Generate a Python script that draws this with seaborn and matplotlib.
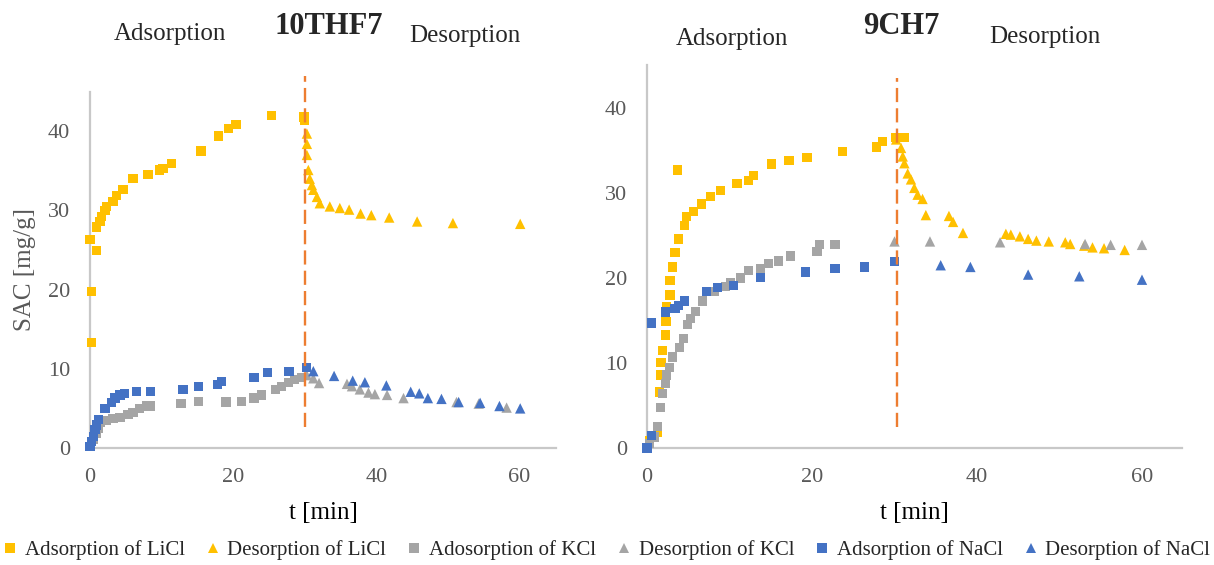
import numpy as np
import pandas as pd
import seaborn as sns
import matplotlib
matplotlib.use("Agg")
import matplotlib.pyplot as plt
from matplotlib.lines import Line2D

# ---------------- data: 10THF7 ----------------
thf_li_ads_t = [0.2, 0.2, 0.0, 0.9, 0.9, 1.4, 1.6, 2.1, 2.3, 3.2, 3.7, 4.6, 6.0, 8.1, 9.7, 10.2, 11.4, 15.5, 17.9, 19.4, 20.4, 25.4, 29.9, 30.0]
thf_li_ads_y = [13.3, 19.8, 26.3, 24.9, 27.9, 28.6, 29.2, 30.0, 30.5, 31.1, 31.9, 32.6, 34.0, 34.5, 35.1, 35.3, 35.9, 37.5, 39.4, 40.3, 40.8, 42.0, 41.8, 41.4]
thf_li_des_t = [30.3, 30.3, 30.3, 30.5, 30.7, 31.0, 31.2, 31.7, 32.1, 33.5, 34.9, 36.2, 37.8, 39.3, 41.8, 45.7, 50.7, 60.1]
thf_li_des_y = [39.7, 38.4, 37.0, 35.1, 34.0, 33.2, 32.6, 31.7, 30.9, 30.5, 30.3, 30.1, 29.6, 29.4, 29.1, 28.6, 28.4, 28.3]
thf_k_ads_t = [0.0, 0.5, 0.9, 1.2, 1.4, 2.3, 3.2, 4.2, 5.3, 6.0, 6.9, 7.9, 8.5, 12.7, 15.2, 19.0, 21.2, 22.9, 24.0, 25.9, 26.8, 27.7, 28.6, 29.6]
thf_k_ads_y = [0.2, 1.1, 1.9, 2.5, 3.2, 3.5, 3.7, 3.9, 4.2, 4.5, 5.0, 5.3, 5.3, 5.6, 5.9, 5.8, 5.9, 6.3, 6.7, 7.4, 7.8, 8.3, 8.6, 8.9]
thf_k_des_t = [30.3, 31.2, 32.0, 35.9, 36.6, 37.7, 38.9, 39.8, 41.5, 43.8, 51.2, 54.3, 58.2]
thf_k_des_y = [9.2, 8.8, 8.2, 8.1, 7.8, 7.4, 7.0, 6.8, 6.7, 6.3, 5.8, 5.6, 5.1]
thf_na_ads_t = [0.0, 0.2, 0.5, 0.7, 0.9, 1.2, 2.1, 3.0, 3.5, 4.2, 4.8, 6.5, 8.5, 13.0, 15.2, 17.8, 18.4, 22.9, 24.8, 27.8, 30.2]
thf_na_ads_y = [0.2, 0.8, 1.5, 2.3, 2.9, 3.6, 5.0, 5.7, 6.3, 6.7, 6.9, 7.1, 7.1, 7.4, 7.8, 8.0, 8.4, 8.9, 9.5, 9.7, 10.2]
thf_na_des_t = [31.2, 34.1, 36.7, 38.4, 41.4, 44.8, 46.0, 47.2, 49.1, 51.5, 54.5, 57.2, 60.1]
thf_na_des_y = [9.7, 9.1, 8.5, 8.3, 7.9, 7.1, 6.9, 6.3, 6.2, 5.8, 5.7, 5.3, 5.0]

# ---------------- data: 9CH7 ----------------
ch_li_ads_t = [0.3, 1.3, 1.5, 1.7, 1.7, 1.9, 2.2, 2.3, 2.4, 2.8, 2.8, 3.1, 3.4, 3.8, 3.7, 4.5, 4.8, 5.6, 6.6, 7.7, 8.9, 10.9, 12.3, 12.9, 15.1, 17.2, 19.4, 23.7, 27.8, 28.5, 30.1, 31.2]
ch_li_ads_y = [0.9, 1.8, 6.6, 8.6, 10.1, 11.5, 13.3, 14.9, 16.6, 18.0, 19.7, 21.3, 23.0, 24.6, 32.7, 26.2, 27.2, 27.8, 28.7, 29.6, 30.3, 31.1, 31.5, 32.1, 33.4, 33.8, 34.2, 34.9, 35.4, 36.1, 36.5, 36.5]
ch_li_des_t = [30.2, 30.8, 31.0, 31.2, 31.6, 32.0, 32.4, 32.8, 33.4, 33.8, 36.6, 37.1, 38.3, 43.5, 44.1, 45.2, 46.2, 47.2, 48.7, 50.7, 51.3, 53.0, 54.0, 55.4, 57.9]
ch_li_des_y = [36.3, 35.3, 34.3, 33.5, 32.3, 31.6, 30.6, 29.8, 29.3, 27.4, 27.3, 26.6, 25.3, 25.2, 25.1, 24.9, 24.6, 24.4, 24.3, 24.2, 24.0, 23.8, 23.6, 23.5, 23.3]
ch_k_ads_t = [0.3, 0.9, 1.3, 1.6, 1.9, 2.2, 2.4, 2.7, 3.1, 3.9, 4.4, 4.9, 5.3, 5.9, 6.7, 8.2, 9.5, 10.1, 11.3, 12.3, 13.8, 14.7, 15.9, 17.4, 20.6, 20.9, 22.8]
ch_k_ads_y = [0.5, 1.3, 2.5, 4.8, 6.4, 7.6, 8.6, 9.5, 10.7, 11.8, 12.9, 14.5, 15.2, 16.1, 17.3, 18.4, 19.0, 19.4, 20.0, 20.9, 21.1, 21.7, 22.0, 22.6, 23.1, 23.9, 23.9]
ch_k_des_t = [30.0, 34.3, 42.8, 53.1, 56.2, 60.0]
ch_k_des_y = [24.3, 24.3, 24.2, 24.0, 23.9, 23.9]
ch_na_ads_t = [0.0, 0.5, 0.5, 2.2, 3.4, 3.8, 4.5, 7.2, 8.5, 10.5, 13.8, 19.2, 22.8, 26.4, 30.0]
ch_na_ads_y = [0.0, 1.5, 14.7, 16.0, 16.4, 16.8, 17.3, 18.4, 18.9, 19.1, 20.1, 20.7, 21.1, 21.3, 21.9]
ch_na_des_t = [35.6, 39.2, 46.2, 52.4, 60.0]
ch_na_des_y = [21.5, 21.3, 20.4, 20.2, 19.8]

series_labels = ["Adsorption of LiCl", "Desorption of LiCl", "Adosorption of KCl",
                 "Desorption of KCl", "Adsorption of NaCl", "Desorption of NaCl"]
x_ticks = [0, 20, 40, 60]
y_ticks = [0, 10, 20, 30, 40]

# ---------------- style ----------------
YEL, GRY, BLU, ORG = "#FFC000", "#A5A5A5", "#4472C4", "#ED7D31"
colors = [YEL, YEL, GRY, GRY, BLU, BLU]
markers = ["s", "^", "s", "^", "s", "^"]
sizes = [44, 56, 44, 56, 44, 56]

sns.set_theme(style="white")
plt.rcParams["font.family"] = ["Liberation Serif", "DejaVu Serif"]
AXC = "#C8C8C8"
TXC = "#595959"

fig = plt.figure(figsize=(12.14, 5.65), dpi=100)
ax1 = fig.add_axes([90 / 1214, 1 - 448 / 565, 466 / 1214, 356.4 / 565])
ax2 = fig.add_axes([647 / 1214, 1 - 448 / 565, 535 / 1214, 382.5 / 565])

panels = [
    (ax1, [(thf_li_ads_t, thf_li_ads_y), (thf_li_des_t, thf_li_des_y), (thf_k_ads_t, thf_k_ads_y),
           (thf_k_des_t, thf_k_des_y), (thf_na_ads_t, thf_na_ads_y), (thf_na_des_t, thf_na_des_y)],
     65.1, 30.0, (2.6, 47.0)),
    (ax2, [(ch_li_ads_t, ch_li_ads_y), (ch_li_des_t, ch_li_des_y), (ch_k_ads_t, ch_k_ads_y),
           (ch_k_des_t, ch_k_des_y), (ch_na_ads_t, ch_na_ads_y), (ch_na_des_t, ch_na_des_y)],
     64.85, 30.3, (2.5, 43.5)),
]

for ax, data, xmax, vx, (vy0, vy1) in panels:
    for (t, y), lab, c, m, s in zip(data, series_labels, colors, markers, sizes):
        df = pd.DataFrame({"t": t, "SAC": y})
        sns.scatterplot(data=df, x="t", y="SAC", ax=ax, color=c, marker=m, s=s,
                        linewidth=0, edgecolor="none", label=lab, legend=False,
                        clip_on=False, zorder=3)
    ax.plot([vx, vx], [vy0, vy1], color=ORG, lw=1.7, ls=(0, (6, 2.6)), clip_on=False, zorder=5)
    ax.set_xlim(0, xmax)
    ax.set_ylim(0, 45)
    ax.set_xticks(x_ticks)
    ax.set_yticks(y_ticks)
    for sp in ["top", "right"]:
        ax.spines[sp].set_visible(False)
    for sp in ["left", "bottom"]:
        ax.spines[sp].set_color(AXC)
        ax.spines[sp].set_linewidth(1.6)
        ax.spines[sp].set_zorder(1)
    ax.tick_params(axis="both", direction="inout", length=9, width=1.4, color=AXC,
                   labelcolor=TXC, labelsize=16)
    ax.tick_params(axis="x", pad=10)
    ax.tick_params(axis="y", pad=10)
    ax.set_xlabel("t [min]", fontsize=18, color="black", labelpad=11)
    ax.set_ylabel("")
    ax.set_facecolor("white")

ax1.set_ylabel("SAC [mg/g]", fontsize=18, color=TXC, labelpad=8)

# titles
fig.text(170 / 1214, 1 - 34 / 565, "Adsorption", ha="center", va="center", fontsize=18)
fig.text(329 / 1214, 1 - 27 / 565, "10THF7", ha="center", va="center", fontsize=22, fontweight="bold")
fig.text(465 / 1214, 1 - 36 / 565, "Desorption", ha="center", va="center", fontsize=18)
fig.text(732 / 1214, 1 - 39 / 565, "Adsorption", ha="center", va="center", fontsize=18)
fig.text(901 / 1214, 1 - 27 / 565, "9CH7", ha="center", va="center", fontsize=22, fontweight="bold")
fig.text(1045 / 1214, 1 - 37 / 565, "Desorption", ha="center", va="center", fontsize=18)

# legend
handles = [Line2D([], [], ls="none", marker=m, color=c, markersize=7 if m == "^" else 6.5, markeredgewidth=0)
           for m, c in zip(markers, colors)]
fig.legend(handles, series_labels, loc="center", bbox_to_anchor=(0.5, 1 - 550 / 565), ncol=6,
           frameon=False, fontsize=15, handlelength=0.6, handletextpad=0.4, columnspacing=1.05,
           borderaxespad=0, borderpad=0)

fig.savefig("out.png", dpi=100, facecolor="white")
